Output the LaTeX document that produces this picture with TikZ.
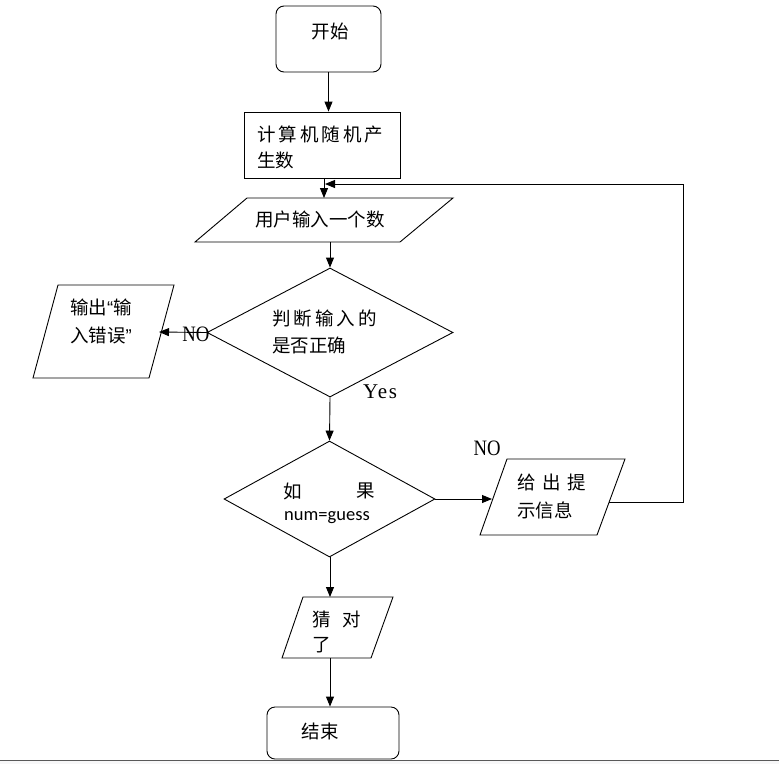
\documentclass[tikz,border=0pt]{standalone}
\usepackage{fontspec}
\usetikzlibrary{arrows.meta,shapes.geometric}
\newfontfamily\cjk{Noto Sans CJK SC}
\newfontfamily\cjkw[LetterSpace=16]{Noto Sans CJK SC}
\newfontfamily\qfont{Liberation Sans}
\newfontfamily\lserif[FakeStretch=0.85]{Liberation Serif}
\newfontfamily\lserifw[LetterSpace=8]{Liberation Serif}
\setmainfont{Carlito}
\tikzset{
  line/.style={line width=0.9pt, draw=black},
  arr/.style={line, -{Triangle[length=10pt,width=8pt]}},
  termbox/.style={line, rounded corners=8pt, inner sep=0pt},
  procbox/.style={line, inner sep=0pt},
  decide/.style={line, diamond, inner sep=0pt, aspect=1},
  txt/.style={inner sep=0pt, font=\cjk\fontsize{18.5}{22}\selectfont},
  txtw/.style={inner sep=0pt, font=\cjkw\fontsize{18.5}{22}\selectfont},
  lbl/.style={inner sep=0pt, font=\lserif\fontsize{22}{26}\selectfont},
}
\begin{document}
\begin{tikzpicture}[x=1pt,y=-1pt]
\useasboundingbox (0,0) rectangle (779,764);
\fill[white] (0,0) rectangle (779,764);
\fill[blue!4!gray!6] (0,761) rectangle (779,764);
\draw[gray!70!black, line width=0.8pt] (0,760.5) -- (779,760.5);

% shapes
\node[termbox, minimum width=105pt, minimum height=66pt] (start) at (328.5,39) {};
\node[procbox, minimum width=156pt, minimum height=66pt] (box) at (322,145) {};
\node[decide, minimum width=246pt, minimum height=129pt] (d1) at (330,332.5) {};
\node[decide, minimum width=211pt, minimum height=116pt] (d2) at (329.5,499) {};
\node[termbox, minimum width=132pt, minimum height=52pt] (end) at (333,733) {};

% parallelograms
\coordinate (p1a) at (247,198); \coordinate (p1b) at (453,198);
\coordinate (p1c) at (400,242); \coordinate (p1d) at (195,242);
\draw[line] (p1a) -- (p1b) -- (p1c) -- (p1d) -- cycle;
\coordinate (pla) at (58,285); \coordinate (plb) at (174,285);
\coordinate (plc) at (149,378); \coordinate (pld) at (33,378);
\draw[line] (pla) -- (plb) -- (plc) -- (pld) -- cycle;
\coordinate (p2a) at (507,459); \coordinate (p2b) at (625,459);
\coordinate (p2c) at (597,535); \coordinate (p2d) at (480,535);
\draw[line] (p2a) -- (p2b) -- (p2c) -- (p2d) -- cycle;
\coordinate (p3a) at (303,597); \coordinate (p3b) at (393,597);
\coordinate (p3c) at (371,658); \coordinate (p3d) at (282,658);
\draw[line] (p3a) -- (p3b) -- (p3c) -- (p3d) -- cycle;

% texts
\node[txt] (t0) at (330,31) {开始};
\node[txtw, anchor=west] (t1a) at (257,134) {计算机随机产};
\node[txt, anchor=west] (t1b) at (257,160) {生数};
\node[txt] (t2) at (320,219) {用户输入一个数};
\node[txtw, anchor=west] (t3a) at (272,318) {判断输入的};
\node[txt, anchor=west] (t3b) at (272,345) {是否正确};
\node[txt, anchor=west] (t4a) at (70,307) {输出{\qfont “}输};
\node[txt, anchor=west] (t4b) at (70,335) {入错误{\qfont ”}};
\node[txt] (t5a) at (293,491) {如};
\node[txt] (t5b) at (366,491) {果};
\node[inner sep=0pt, font=\fontsize{18.5}{22}\selectfont] (t5c) at (327,518) {num=guess};
\node[txt, anchor=west] (t6a) at (517,482) {给\hspace{6.5pt}出\hspace{6.5pt}提};
\node[txt, anchor=west] (t6b) at (517,510) {示信息};
\node[txt] (t7a) at (322,619) {猜};
\node[txt] (t7b) at (352,619) {对};
\node[txt] (t7c) at (322,645) {了};
\node[txt] (t8) at (320,731) {结束};

% connectors
\coordinate (c1) at (324,198);
\draw[arr] (start.south) -- (start.south |- box.north);
\draw[arr] (box.south -| c1) -- (c1);
\coordinate (c2) at (330,242);
\draw[arr] (c2) -- (d1.north);
\coordinate (c3) at (159,332);
\draw[arr] (d1.west) -- (c3);
\draw[arr] (d1.south) -- (d2.north);
\coordinate (c4) at (492,499);
\draw[arr] (d2.east) -- (c4);
\coordinate (c5) at (330,597);
\draw[arr] (d2.south -| c5) -- (c5);
\coordinate (c6) at (330,658);
\draw[arr] (c6) -- (end.north -| c6);
% feedback loop
\coordinate (fa) at (609,502);
\coordinate (fb) at (683,184);
\coordinate (fc) at (325,184);
\draw[arr] (fa) -| (fb) -- (fc);

% labels
\node[lbl] (no1) at (196,334) {NO};
\node[inner sep=0pt, font=\lserifw\fontsize{21}{25}\selectfont] (yes) at (380,392) {Yes};
\node[lbl] (no2) at (487,448) {NO};
\end{tikzpicture}
\end{document}
